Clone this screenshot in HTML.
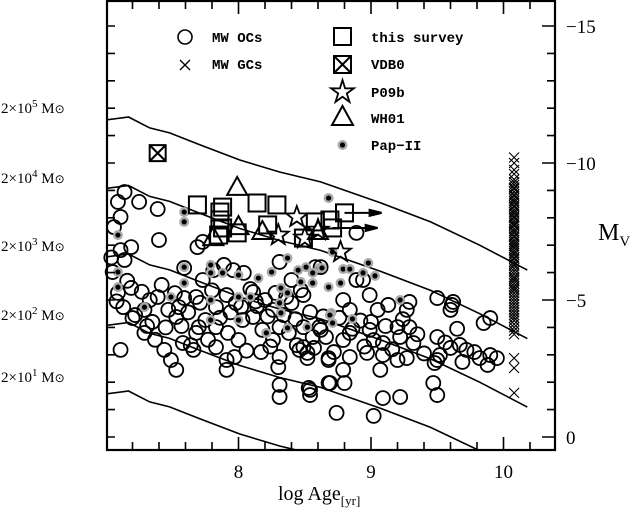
<!DOCTYPE html>
<html><head><meta charset="utf-8"><style>
html,body{margin:0;padding:0;background:#fff;width:632px;height:513px;overflow:hidden;}
svg{display:block;}
text{font-family:"Liberation Serif",serif;fill:#000;}
.leg{font-family:"Liberation Mono",monospace;font-size:14px;font-weight:bold;}
</style></head><body>
<svg id="chart" width="632" height="513" viewBox="0 0 632 513" xmlns="http://www.w3.org/2000/svg">
<text x="278" y="500" font-size="20">log Age<tspan font-size="13" dy="5">[yr]</tspan></text>
<text x="598" y="240" font-size="24">M<tspan font-size="15" dy="6">V</tspan></text>
<g fill="none" stroke="#000">
<circle cx="185" cy="37" r="7" stroke-width="1.6"/>
<path d="M180,60L190,70M180,70L190,60" stroke-width="1.3"/>
<rect x="334" y="28" width="17" height="17" stroke-width="2"/>
<path d="M334,56h17v17h-17zM334,56L351,73M334,73L351,56" stroke-width="2"/>
<path d="M342.5,80L345.1,88.4L353.9,88.3L346.8,93.5L349.5,101.9L342.5,96.8L335.5,101.9L338.2,93.5L331.1,88.3L339.9,88.4Z" stroke-width="1.8"/>
<path d="M342.5,106L353,125L332,125Z" stroke-width="2"/>
<circle cx="342.5" cy="145" r="5" fill="#aaa" stroke="none"/>
<circle cx="342.5" cy="145" r="2.6" fill="#000" stroke="none"/>
</g>
<text class="leg" x="212" y="42">MW OCs</text>
<text class="leg" x="212" y="69">MW GCs</text>
<text class="leg" x="371" y="42">this survey</text>
<text class="leg" x="371" y="69">VDB0</text>
<text class="leg" x="371" y="97">P09b</text>
<text class="leg" x="371" y="123">WH01</text>
<text class="leg" x="371" y="150">Pap−II</text>
</svg>
<script>
// ---- data ----
const ocAge = [7.14,7.09,7.25,7.39,7.11,7.06,7.40,7.19,7.11,7.69,7.73,7.14,7.05,7.09,7.19,7.13,7.20,7.11,7.29,7.35,7.42,7.39,7.47,7.44,7.49,7.53,7.59,7.59,7.55,7.53,7.58,7.66,7.70,7.68,7.73,7.81,7.89,7.96,8.04,7.91,7.98,7.83,7.75,7.68,7.83,7.92,8.00,7.83,7.91,7.97,7.91,8.03,8.11,8.18,8.17,8.26,8.28,8.36,8.31,8.26,8.31,8.30,8.31,8.40,8.47,8.40,8.31,8.49,8.46,8.52,8.61,8.66,8.68,8.68,8.53,8.31,8.89,8.58,8.94,8.49,8.79,8.99,8.54,8.84,9.05,9.13,9.29,9.27,9.50,9.62,9.60,9.85,9.90,8.62,8.56,8.84,8.79,8.99,9.02,9.20,9.22,9.29,9.32,9.09,9.50,8.49,8.52,8.68,8.84,8.97,9.09,9.20,9.27,9.50,9.52,9.60,9.67,9.72,9.69,9.82,9.90,9.95,9.88,9.48,8.79,9.07,8.80,8.69,9.47,9.50,9.09,9.22,8.54,8.54,8.74,9.02,9.61,8.62,8.89,8.11,8.20,8.14,7.33,7.29,
7.04,7.08,7.16,7.22,7.27,7.31,7.37,7.45,7.52,7.57,7.62,7.64,7.71,7.77,7.80,7.86,7.94,8.02,8.06,8.09,8.13,8.22,8.24,8.34,8.38,8.43,8.44,8.57,8.64,8.72,8.76,8.86,8.92,8.95,9.00,9.11,9.16,9.24,9.35,9.40,9.56,9.65,9.78];
const ocMv = [-8.94,-8.58,-8.58,-8.32,-8.03,-7.66,-7.19,-6.93,-6.82,-6.93,-7.12,-6.46,-6.02,-5.26,-5.44,-4.74,-4.34,-3.18,-3.80,-4.20,-5.55,-5.11,-4.64,-3.18,-2.81,-2.45,-6.17,-5.07,-4.74,-4.38,-3.43,-3.18,-4.01,-5.11,-5.73,-6.09,-6.28,-6.09,-5.99,-5.18,-4.89,-4.74,-4.27,-3.80,-4.01,-3.80,-3.54,-3.28,-2.81,-2.92,-2.45,-4.27,-4.38,-3.91,-3.10,-4.64,-5.26,-5.11,-4.01,-3.54,-2.92,-2.55,-1.90,-4.89,-5.36,-5.73,-6.39,-4.01,-3.18,-3.07,-4.01,-3.65,-2.81,-1.97,-1.79,-1.46,-7.45,-6.20,-5.73,-5.18,-5.00,-5.18,-4.56,-4.64,-4.64,-4.82,-4.93,-4.64,-5.07,-4.93,-4.64,-4.16,-4.34,-3.91,-3.65,-3.80,-3.54,-3.91,-3.54,-4.01,-3.65,-4.01,-3.43,-3.43,-3.65,-3.28,-2.88,-2.88,-2.92,-3.07,-2.99,-2.81,-2.88,-2.81,-2.99,-3.25,-3.36,-3.18,-2.74,-2.88,-2.99,-2.88,-2.63,-2.70,-2.45,-2.45,-1.97,-1.97,-1.97,-1.53,-1.42,-1.46,-1.72,-1.53,-0.88,-0.77,-4.82,-6.20,-5.73,-5.29,-5.00,-4.78,-5.00,-4.64,
-6.55,-4.95,-5.70,-4.45,-5.30,-4.05,-3.55,-4.00,-5.25,-4.05,-4.55,-3.35,-4.90,-3.55,-5.35,-4.35,-4.55,-4.75,-3.15,-5.40,-4.95,-4.40,-3.30,-4.45,-3.80,-4.30,-3.35,-3.25,-4.40,-3.10,-4.35,-3.95,-4.25,-3.30,-4.20,-4.05,-3.20,-4.30,-3.75,-3.05,-3.45,-3.95,-3.10];
const gcMv = [-10.2,-10.0,-9.75,-9.6,-9.4,-9.3,-9.2,-9.1,-9.05,-8.95,-8.85,-8.8,-8.7,-8.62,-8.55,-8.45,-8.4,-8.3,-8.22,-8.15,-8.05,-8.0,-7.9,-7.82,-7.75,-7.7,-7.6,-7.52,-7.45,-7.35,-7.3,-7.2,-7.12,-7.05,-6.98,-6.9,-6.8,-6.72,-6.65,-6.55,-6.5,-6.4,-6.32,-6.25,-6.15,-6.05,-5.95,-5.85,-5.78,-5.7,-5.6,-5.5,-5.42,-5.35,-5.25,-5.15,-5.05,-4.95,-4.85,-4.75,-4.65,-4.55,-4.45,-4.35,-4.25,-4.12,-4.0,-3.88,-3.75,-2.88,-2.52,-1.61];
const gcAge = 10.08;
const papAge = [7.59,7.59,7.09,8.68,7.09,7.09,7.59,7.59,7.79,7.79,7.88,8.00,8.15,8.25,8.37,8.45,8.51,8.61,8.56,8.47,8.56,8.68,8.32,8.37,8.31,8.32,7.49,7.29,7.79,8.00,8.09,7.79,8.00,8.21,8.37,8.52,8.70,8.71,8.98,8.79,8.84,8.94,9.03,8.63,8.77,9.22,8.69,8.86,8.71];
const papMv = [-8.21,-7.85,-7.37,-8.72,-6.02,-5.47,-6.20,-5.62,-6.28,-5.99,-5.99,-5.91,-5.80,-6.02,-6.53,-6.09,-6.20,-6.17,-5.99,-5.66,-5.62,-5.47,-5.44,-5.26,-4.89,-4.53,-5.11,-4.74,-5.00,-5.11,-5.11,-4.27,-4.27,-3.80,-3.98,-4.01,-4.53,-6.75,-6.35,-6.13,-6.13,-5.99,-5.88,-6.17,-5.62,-5.00,-4.45,-4.31,-4.16];
const surAge = [7.69,7.88,8.14,8.29,8.22,7.99,7.86,7.86,7.88,7.85,8.49,8.58,8.69,8.80,8.71];
const surMv = [-8.47,-8.39,-8.54,-8.47,-7.74,-7.45,-8.21,-7.92,-7.63,-7.37,-7.26,-7.85,-7.92,-8.18,-7.63];
const arrFromAge = [8.80,8.71];
const arrToAge = [9.08,9.05];
const arrMv = [-8.18,-7.63];
const triAge = [7.99,7.81,8.00,8.18,8.60];
const triMv = [-9.09,-7.26,-7.66,-7.48,-7.48];
const starAge = [8.44,8.30,8.50,8.60,8.77];
const starMv = [-8.03,-7.37,-7.26,-7.55,-6.75];
const vdbAge = [7.39];
const vdbMv = [-10.36];
const modelAge = [7.0,7.17,7.33,7.48,7.71,8.01,8.31,8.62,9.07,9.45,9.82,10.18];
const modelMv = [-11.57,-11.68,-11.28,-11.1,-10.66,-10.11,-9.67,-9.31,-8.55,-7.85,-7.0,-6.09];
const modelOffsets = [0,2.5,5,7.5,10];
const massExp = ["5","4","3","2","1"];
const massLabelY = [113,183,251,320,382];
const xTicks = [8,9,10];
const yTicks = [0,-5,-10,-15];

// ---- axes ----
const L=107,R=555,T=1,B=450;
const xs = a => 106 + (a-7)*132.5;
const ys = m => 437 + m*27.4;
const svg = document.getElementById('chart');
const NS='http://www.w3.org/2000/svg';
function mk(tag, attrs, parent){const e=document.createElementNS(NS,tag);for(const k in attrs)e.setAttribute(k,attrs[k]);(parent||svg).appendChild(e);return e;}

const clip = mk('clipPath',{id:'pc'}); mk('rect',{x:L,y:T,width:R-L,height:B-T},clip);

const gLines = mk('g',{'clip-path':'url(#pc)'});


modelOffsets.forEach((o,i)=>{
  const d = modelAge.map((a,j)=>(j?'L':'M')+xs(a).toFixed(1)+','+ys(modelMv[j]+o).toFixed(1)).join(' ');
  const p = mk('path',{d:d,fill:'none',stroke:'#000','stroke-width':1.6},gLines);
  
  
});

const gOC = mk('g',{});


ocAge.forEach((a,i)=>{
  const c = mk('circle',{cx:xs(a),cy:ys(ocMv[i]),r:7,fill:'none',stroke:'#000','stroke-width':1.8},gOC);
  
  
});
const gPap = mk('g',{});


papAge.forEach((a,i)=>{
  mk('circle',{cx:xs(a),cy:ys(papMv[i]),r:5,fill:'#aaa'},gPap);
  const c = mk('circle',{cx:xs(a),cy:ys(papMv[i]),r:2.6,fill:'#000'},gPap);
  
  
});
const gGC = mk('g',{});


gcMv.forEach(m=>{
  const x=xs(gcAge),y=ys(m),s=5;
  const p = mk('path',{d:`M${x-s},${y-s}L${x+s},${y+s}M${x-s},${y+s}L${x+s},${y-s}`,stroke:'#000','stroke-width':1.1},gGC);
  
  
});
const gS = mk('g',{});


arrFromAge.forEach((a,i)=>{
  const y=ys(arrMv[i]), x2=xs(arrToAge[i]);
  const p = mk('path',{d:`M${xs(a)},${y}L${x2},${y}M${x2-12},${y-3}L${x2},${y}L${x2-12},${y+3}Z`,stroke:'#000','stroke-width':2,fill:'#000'},gS);
  
  
});
surAge.forEach((a,i)=>{
  const r = mk('rect',{x:xs(a)-8.5,y:ys(surMv[i])-8.5,width:17,height:17,fill:'none',stroke:'#000','stroke-width':2},gS);
  
  
});
triAge.forEach((a,i)=>{
  const x=xs(a),y=ys(triMv[i]);
  const p = mk('path',{d:`M${x},${y-11}L${x+10},${y+7}L${x-10},${y+7}Z`,fill:'none',stroke:'#000','stroke-width':2});
  
  
});
function starPath(x,y,R1,R2){let d='';for(let k=0;k<10;k++){const r=k%2?R2:R1;const t=-Math.PI/2+k*Math.PI/5;d+=(k?'L':'M')+(x+r*Math.cos(t)).toFixed(1)+','+(y+r*Math.sin(t)).toFixed(1);}return d+'Z';}
starAge.forEach((a,i)=>{
  const p = mk('path',{d:starPath(xs(a),ys(starMv[i]),11,4.5),fill:'none',stroke:'#000','stroke-width':1.8});
  
  
});
vdbAge.forEach((a,i)=>{
  const x=xs(a),y=ys(vdbMv[i]);
  const p = mk('path',{d:`M${x-8},${y-8}h16v16h-16z M${x-8},${y-8}L${x+8},${y+8}M${x-8},${y+8}L${x+8},${y-8}`,fill:'none',stroke:'#000','stroke-width':2});
  
  
});

const frame = mk('rect',{x:L,y:T,width:R-L,height:B-T,fill:'none',stroke:'#000','stroke-width':2.2});


let td='';
for(let a=7.2;a<10.39;a+=0.2){const x=xs(a);const maj=Math.abs(a-Math.round(a))<0.01;const l=maj?13:8;td+=`M${x},${B}v${-l}M${x},${T}v${l}`;}
for(let m=0;m>=-15;m--){const y=ys(m);const maj=m%5===0;td+=`M${L},${y}h${8}M${R},${y}h${-(maj?13:8)}`;}
const ticks = mk('path',{d:td,stroke:'#000','stroke-width':1.6});


xTicks.forEach(v=>{
  const t=mk('text',{x:xs(v),y:478,'text-anchor':'middle','font-size':19});t.textContent=v;
  
  
});
yTicks.forEach(v=>{
  const t=mk('text',{x:566,y:ys(v)+7,'font-size':19});t.textContent=v===0?'0':'−'+(-v);
  
  
});
massExp.forEach((s,i)=>{
  const t=mk('text',{x:1,y:massLabelY[i],'font-size':15});
  t.innerHTML="2×10<tspan dy='-6' font-size='11'>"+s+"</tspan><tspan dy='6'> M</tspan><tspan font-size='12'>⊙</tspan>";
  
  
});
</script>
</body></html>
